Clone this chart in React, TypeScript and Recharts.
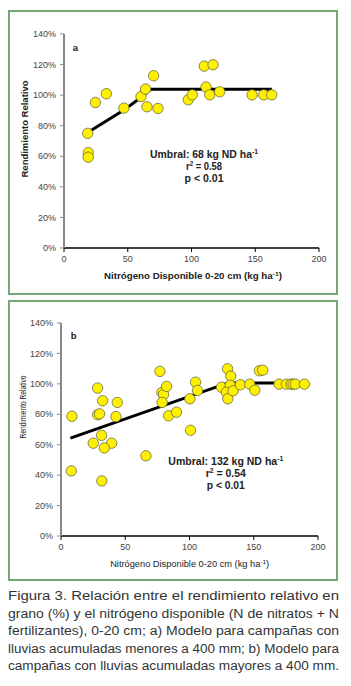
import React from 'react';
import { ScatterChart, Scatter, XAxis, YAxis } from 'recharts';

// Panel a: campañas con lluvias < 400 mm
const nitrogenA = [18.6, 19, 19, 24.6, 33.2, 47, 60.4, 64, 65.1, 70.3, 73.7, 97.5, 100.6, 110, 111.4, 114.3, 116.9, 122.1, 147.5, 156.6, 162.9];
const yieldA = [75, 62.4, 59.4, 95.2, 100.9, 91.5, 99.1, 104, 92.4, 112.7, 91.3, 97, 100.2, 119, 105.3, 100.2, 119.9, 102.2, 100.2, 100.2, 100.2];
const modelAx = [18.6, 47, 60, 68, 163];
const modelAy = [75.5, 90.2, 98.3, 103.8, 103.8];

// Panel b: campañas con lluvias > 400 mm
const nitrogenB = [8.5, 28.5, 28.5, 30, 32.4, 31.6, 43.8, 42.7, 77, 78.5, 79.8, 82.2, 78.7, 83.7, 89.9, 100.3, 100.8, 104.7, 106.2, 124.9, 129.6, 132.1, 131.6, 128.8, 129.8, 133.9, 139.6, 146.9, 150.8, 154.4, 157, 169.7, 175.4, 179, 180.6, 182.4, 189.4, 25.1, 39.4, 33.7, 66.1, 8, 31.8];
const yieldB = [78.7, 97.2, 79.7, 80.3, 88.9, 66.2, 87.8, 78.5, 108.2, 94.3, 93, 98.3, 87.8, 79, 81.4, 90.2, 69.5, 101.1, 95.7, 97.8, 109.9, 105.1, 99.1, 94.5, 90.2, 95.4, 99.4, 99.8, 95.8, 108.6, 109, 99.8, 99.8, 99.8, 99.8, 99.8, 99.8, 61, 61, 57.9, 52.7, 42.8, 36.2];
const modelBx = [7.3, 130, 189];
const modelBy = [64.3, 100.6, 100.6];

const xTicks = [0, 50, 100, 150, 200];
const yTicks = [0, 20, 40, 60, 80, 100, 120, 140];

const captionLines = [
  'Figura 3. Relación entre el rendimiento relativo en',
  'grano (%) y el nitrógeno disponible (N de nitratos + N',
  'fertilizantes), 0-20 cm; a) Modelo para campañas con',
  'lluvias acumuladas menores a 400 mm; b) Modelo para',
  'campañas con lluvias acumuladas mayores a 400 mm.',
];

const zip = (xs: number[], ys: number[]) => xs.map((x, i) => ({ x, y: ys[i] }));

const FONT = 'Liberation Sans, Arial, sans-serif';
const tickStyle = { fontSize: 9, fill: '#444', fontFamily: FONT };

const Dot = (p: any) => (
  <circle cx={p.cx} cy={p.cy} r={5.2} fill="#FFF000" stroke="#6b6b40" strokeWidth={0.8} />
);
const NoDot = () => <g />;

interface PanelProps {
  points: { x: number; y: number }[];
  model: { x: number; y: number }[];
  height: number;
  margin: { top: number; right: number; left: number; bottom: number };
  yWidth: number;
  xHeight: number;
  boldLabels: boolean;
  letter: string;
  letterPos: [number, number];
  umbral: string;
  r2: string;
  textX: number;
  textY: [number, number, number];
  textLen: [number, number, number];
  yLabelPos: [number, number];
  yLabelLen: number;
  xLabelPos: [number, number];
  xLabelLen: number;
  marginTop: number;
}

const Panel: React.FC<PanelProps> = (p) => {
  const w = 326;
  const weight = p.boldLabels ? 'bold' : 'normal';
  return (
    <div style={{ position: 'relative', width: w, height: p.height, border: '2px solid #74a776', marginTop: p.marginTop }}>
      <ScatterChart width={w} height={p.height} margin={p.margin}>
        <XAxis
          type="number"
          dataKey="x"
          domain={[0, 200]}
          ticks={xTicks}
          height={p.xHeight}
          axisLine={{ stroke: '#000', strokeWidth: 1.5 }}
          tickLine={{ stroke: '#000' }}
          tickSize={4}
          tickMargin={4}
          tick={tickStyle}
        />
        <YAxis
          type="number"
          dataKey="y"
          domain={[0, 140]}
          ticks={yTicks}
          width={p.yWidth}
          axisLine={{ stroke: '#888', strokeWidth: 2 }}
          tickLine={{ stroke: '#888' }}
          tickSize={4}
          tickMargin={4}
          tick={tickStyle}
          tickFormatter={(v) => `${v}%`}
        />
        <Scatter data={p.model} shape={NoDot} line={{ stroke: '#000', strokeWidth: 3 }} lineType="joint" isAnimationActive={false} />
        <Scatter data={p.points} shape={Dot} isAnimationActive={false} />
      </ScatterChart>
      <svg width={w} height={p.height} style={{ position: 'absolute', left: 0, top: 0, pointerEvents: 'none', fontFamily: FONT }}>
        <text x={p.letterPos[0]} y={p.letterPos[1]} fontSize={9.5} fontWeight="bold" fill="#222">{p.letter}</text>
        <g fontSize={10} fontWeight="bold" fill="#222" textAnchor="middle">
          <text x={p.textX} y={p.textY[0]} textLength={p.textLen[0]} lengthAdjust="spacingAndGlyphs">
            {p.umbral}
            <tspan fontSize={6.5} dy={-4}>-1</tspan>
          </text>
          <text x={p.textX} y={p.textY[1]} textLength={p.textLen[1]} lengthAdjust="spacingAndGlyphs">
            r<tspan fontSize={6.5} dy={-4}>2</tspan>
            <tspan dy={4}> = {p.r2}</tspan>
          </text>
          <text x={p.textX} y={p.textY[2]} textLength={p.textLen[2]} lengthAdjust="spacingAndGlyphs">p &lt; 0.01</text>
        </g>
        <text
          transform={`translate(${p.yLabelPos[0]},${p.yLabelPos[1]}) rotate(-90)`}
          textAnchor="middle"
          fontSize={8.5}
          fontWeight={weight}
          fill="#222"
          textLength={p.yLabelLen}
          lengthAdjust="spacingAndGlyphs"
        >
          Rendimiento Relativo
        </text>
        <text
          x={p.xLabelPos[0]}
          y={p.xLabelPos[1]}
          textAnchor="middle"
          fontSize={8.5}
          fontWeight={weight}
          fill="#222"
          textLength={p.xLabelLen}
          lengthAdjust="spacingAndGlyphs"
        >
          Nitrógeno Disponible 0-20 cm (kg ha
          <tspan fontSize={6} dy={-3}>-1</tspan>
          <tspan dy={3}>)</tspan>
        </text>
      </svg>
    </div>
  );
};

export default function App() {
  return (
    <div style={{ width: 335 }}>
      <Panel
        points={zip(nitrogenA, yieldA)}
        model={zip(modelAx, modelAy)}
        height={281}
        margin={{ top: 22, right: 17, left: 0, bottom: 0 }}
        yWidth={54}
        xHeight={45}
        boldLabels
        letter="a"
        letterPos={[62.7, 39]}
        umbral="Umbral: 68 kg ND ha"
        r2="0.58"
        textX={194}
        textY={[146.3, 158, 170]}
        textLen={[108, 36, 39]}
        yLabelPos={[18, 117]}
        yLabelLen={97}
        xLabelPos={[183, 267]}
        xLabelLen={178}
        marginTop={2}
      />
      <Panel
        points={zip(nitrogenB, yieldB)}
        model={zip(modelBx, modelBy)}
        height={277}
        margin={{ top: 21, right: 18, left: 0, bottom: 0 }}
        yWidth={51}
        xHeight={43}
        boldLabels={false}
        letter="b"
        letterPos={[60.7, 37.3]}
        umbral="Umbral: 132 kg ND ha"
        r2="0.54"
        textX={215.8}
        textY={[163.3, 175, 187]}
        textLen={[115, 40, 38]}
        yLabelPos={[16, 105]}
        yLabelLen={63}
        xLabelPos={[179.7, 264.5]}
        xLabelLen={159}
        marginTop={5}
      />
      <svg width={343} height={98} style={{ display: 'block', marginTop: 3, fontFamily: FONT }}>
        {captionLines.map((line, i) => (
          <text
            key={line}
            x={0}
            y={16 + i * 17.5}
            fontSize={13.7}
            fill="#333"
            textLength={331}
            lengthAdjust="spacingAndGlyphs"
          >
            {line}
          </text>
        ))}
      </svg>
    </div>
  );
}
